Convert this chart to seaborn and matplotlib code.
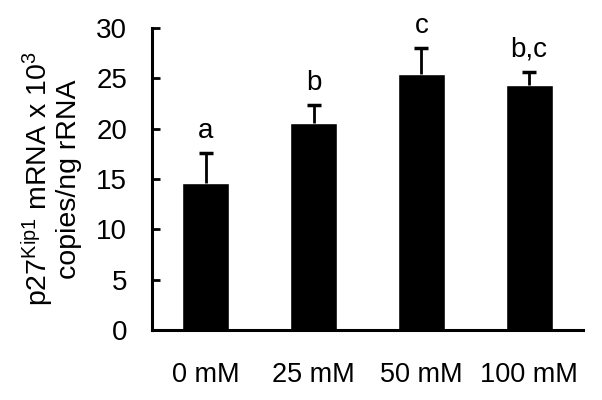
import pandas as pd
import seaborn as sns
import matplotlib.pyplot as plt
import numpy as np

groups = ['0 mM', '25 mM', '50 mM', '100 mM']
means = [14.6, 20.6, 25.4, 24.3]
sem = [2.95, 1.75, 2.6, 1.35]
letters = ['a', 'b', 'c', 'b,c']

df = pd.DataFrame({'group': groups, 'value': means})

sns.set_style('white')
plt.rcParams['font.family'] = ['Liberation Sans', 'DejaVu Sans']
plt.rcParams['mathtext.fontset'] = 'custom'
plt.rcParams['mathtext.rm'] = 'Liberation Sans'
plt.rcParams['mathtext.it'] = 'Liberation Sans'
plt.rcParams['text.color'] = 'black'
plt.rcParams['axes.labelcolor'] = 'black'
plt.rcParams['xtick.color'] = 'black'
plt.rcParams['ytick.color'] = 'black'

fig = plt.figure(figsize=(6.02, 4), dpi=100)
ax = fig.add_axes([0.2525, 0.175, 0.716, 0.755])

sns.barplot(data=df, x='group', y='value', order=groups, color='black',
            width=0.435, errorbar=None, saturation=1, ax=ax)

# upper error bars only (stem + top cap)
x = np.arange(len(groups))
tops = np.array(means) + np.array(sem)
ax.vlines(x, means, tops, color='black', linewidth=2)
ax.scatter(x, tops, marker='_', s=90, linewidths=2.5, color='black')

for xi, t, lab in zip(x, tops, letters):
    ax.text(xi, t + 0.9, lab, ha='center', va='bottom', fontsize=20)

ax.set_ylim(0, 30)
ax.set_xlim(-0.5, 3.5)
ax.set_yticks(range(0, 31, 5))
ax.set_xlabel('')
ax.set_ylabel('p27$^{\\mathrm{Kip1}}$ mRNA x 10$^{3}$\ncopies/ng rRNA',
              fontsize=20.5, labelpad=10, linespacing=1.0)

sns.despine(ax=ax)
for sp in ['left', 'bottom']:
    ax.spines[sp].set_linewidth(2.2)
    ax.spines[sp].set_color('black')
ax.tick_params(axis='y', direction='in', length=6, width=2, pad=18,
               labelsize=20, left=True)
ax.tick_params(axis='x', length=0, pad=23, labelsize=19.5)

plt.savefig('out.png', dpi=100)
